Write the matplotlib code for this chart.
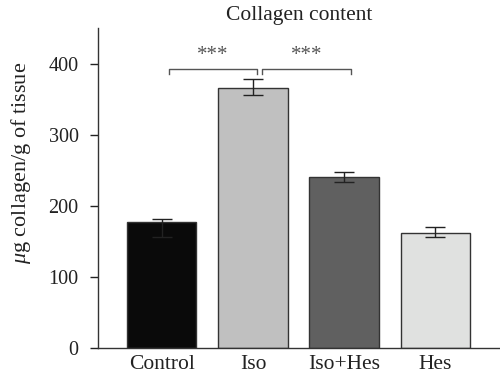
import numpy as np
import matplotlib.pyplot as plt

plt.rcParams['font.family'] = ['Liberation Serif', 'DejaVu Serif']
plt.rcParams['mathtext.fontset'] = 'custom'
plt.rcParams['mathtext.rm'] = 'Liberation Serif'
plt.rcParams['mathtext.it'] = 'Liberation Serif:italic'

groups = ['Control', 'Iso', 'Iso+Hes', 'Hes']
collagen = [177, 366, 241, 162]
err_low = [21, 10, 8, 6]
err_high = [5, 12, 7, 8]
colors = ['#0a0a0a', '#c0c0c0', '#606060', '#e0e1e0']
stars = ['***', '***']

fig = plt.figure(figsize=(5, 3.8), dpi=100)
ax = fig.add_axes([0.196, 0.084, 0.804, 0.842])

x = np.arange(len(groups))
ax.bar(x, collagen, width=0.76, color=colors, edgecolor='#333333', linewidth=1.0, zorder=2)
ax.errorbar(x, collagen, yerr=[err_low, err_high], fmt='none', ecolor='#222222',
            elinewidth=1.0, capsize=7, capthick=1.0, zorder=3)

# significance brackets
def bracket(x0, x1, y, txt):
    ax.plot([x0, x0, x1, x1], [y - 8, y, y, y - 8], color='#555555', lw=1.0, clip_on=False)
    ax.text((x0 + x1) / 2, y + 5, txt, ha='center', va='bottom', fontsize=15, color='#555555')

bracket(0.08, 1.04, 393, stars[0])
bracket(1.10, 2.08, 393, stars[1])

ax.set_xlim(-0.70, 3.71)
ax.set_ylim(0, 450)
ax.set_yticks([0, 100, 200, 300, 400])
ax.set_xticks(x)
ax.set_xticklabels(groups)
ax.tick_params(axis='y', labelsize=14.5, colors='#222222', length=6, width=1.0, pad=8)
ax.tick_params(axis='x', labelsize=15.5, colors='#222222', length=0, pad=5)
for s in ['top', 'right']:
    ax.spines[s].set_visible(False)
for s in ['left', 'bottom']:
    ax.spines[s].set_color('#333333')
    ax.spines[s].set_linewidth(1.0)

ax.set_ylabel(r'$\mu$g collagen/g of tissue', fontsize=16, color='#222222')
ax.yaxis.set_label_coords(-0.162, 0.58)
ax.set_title('Collagen content', fontsize=15.5, color='#222222', x=0.5, pad=6)

fig.savefig('out.png', dpi=100)
